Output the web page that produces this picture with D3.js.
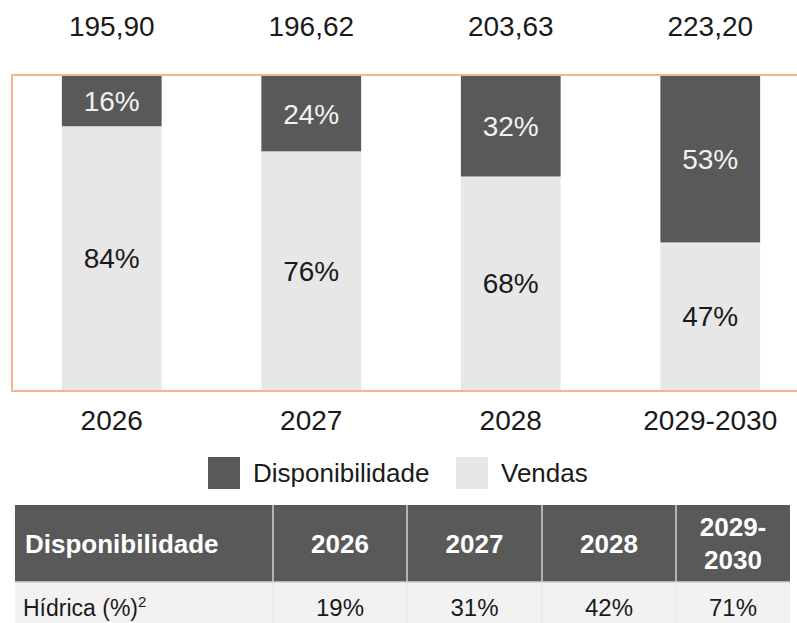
<!DOCTYPE html>
<html>
<head>
<meta charset="utf-8">
<script src="https://cdn.jsdelivr.net/npm/d3@7"></script>
<style>
  html, body { margin: 0; padding: 0; background: #ffffff; }
  svg { display: block; }
  text { font-family: "Liberation Sans", Arial, sans-serif; }
</style>
</head>
<body>
<svg id="chart" width="797" height="623"></svg>
<script>
// ---- data ----
const categories = ["2026", "2027", "2028", "2029-2030"];
const disponibilidade = [16, 24, 32, 53];
const vendas = [84, 76, 68, 47];
const totals = ["195,90", "196,62", "203,63", "223,20"];
const seriesNames = ["Disponibilidade", "Vendas"];
const tableHeader = ["Disponibilidade", "2026", "2027", "2028", "2029-2030"];
const tableRowLabel = "Hídrica (%)";
const tableRowValues = ["19%", "31%", "42%", "71%"];

// ---- layout ----
const W = 797, H = 623;
const colors = { Disponibilidade: "#595959", Vendas: "#e7e7e7" };
const svg = d3.select("#chart");

const x = d3.scaleBand().domain(categories).range([12, 810]).paddingInner(0.5).paddingOuter(0.25);
const y = d3.scaleLinear().domain([0, 100]).range([390, 76]);

const rows = categories.map((c, i) => ({ cat: c, Vendas: vendas[i], Disponibilidade: disponibilidade[i] }));
const stack = d3.stack().keys(["Vendas", "Disponibilidade"]);
const stacked = stack(rows);

// bars
const g = svg.append("g");
stacked.forEach(layer => {
  g.selectAll(null).data(layer).enter().append("rect")
    .attr("x", d => x(d.data.cat))
    .attr("width", x.bandwidth())
    .attr("y", d => y(d[1]))
    .attr("height", d => y(d[0]) - y(d[1]))
    .attr("fill", colors[layer.key]);
  g.selectAll(null).data(layer).enter().append("text")
    .attr("x", d => x(d.data.cat) + x.bandwidth() / 2)
    .attr("y", d => (y(d[0]) + y(d[1])) / 2 + 10)
    .attr("text-anchor", "middle")
    .attr("font-size", 28)
    .attr("fill", layer.key === "Disponibilidade" ? "#f2f2f2" : "#1a1a1a")
    .text(d => (d[1] - d[0]) + "%");
});

// orange frame
svg.append("rect")
  .attr("x", 12).attr("y", y(100) - 1)
  .attr("width", 800).attr("height", y(0) - y(100) + 2)
  .attr("fill", "none").attr("stroke", "#f8b48c").attr("stroke-width", 2);

// totals on top
svg.selectAll(".tot").data(categories).enter().append("text")
  .attr("x", d => x(d) + x.bandwidth() / 2)
  .attr("y", 36)
  .attr("text-anchor", "middle")
  .attr("font-size", 28)
  .attr("fill", "#1a1a1a")
  .text((d, i) => totals[i]);

// category axis
const xAxis = svg.append("g").attr("transform", "translate(0,400)")
  .call(d3.axisBottom(x).tickSize(0).tickPadding(0));
xAxis.select(".domain").remove();
xAxis.selectAll("text")
  .attr("y", 30).attr("dy", 0)
  .attr("font-size", 28)
  .attr("font-family", "'Liberation Sans', Arial, sans-serif")
  .attr("fill", "#1a1a1a");

// legend
const legendX = [208, 456];
seriesNames.forEach((s, i) => {
  svg.append("rect").attr("x", legendX[i]).attr("y", 457).attr("width", 32).attr("height", 32)
    .attr("fill", colors[s]);
  svg.append("text").attr("x", legendX[i] + 45).attr("y", 482)
    .attr("font-size", 26).attr("fill", "#1a1a1a").text(s);
});

// table
const colEdges = [15, 273, 407, 542, 676, 790];
const headTop = 505, headBot = 582, rowBot = 640;
svg.append("rect").attr("x", colEdges[0]).attr("y", headTop)
  .attr("width", colEdges[5] - colEdges[0]).attr("height", headBot - headTop).attr("fill", "#595959");
svg.append("rect").attr("x", colEdges[0]).attr("y", headBot)
  .attr("width", colEdges[5] - colEdges[0]).attr("height", rowBot - headBot).attr("fill", "#f2f2f2");
for (let i = 1; i < 5; i++) {
  svg.append("line").attr("x1", colEdges[i]).attr("x2", colEdges[i])
    .attr("y1", headTop).attr("y2", headBot).attr("stroke", "#d0d0d0").attr("stroke-width", 1.5);
  svg.append("line").attr("x1", colEdges[i]).attr("x2", colEdges[i])
    .attr("y1", headBot).attr("y2", rowBot).attr("stroke", "#e6e6e6").attr("stroke-width", 1);
}
svg.append("line").attr("x1", colEdges[0]).attr("x2", colEdges[5])
  .attr("y1", headBot).attr("y2", headBot).attr("stroke", "#d0d0d0").attr("stroke-width", 1.5);

tableHeader.forEach((h, i) => {
  const t = svg.append("text").attr("font-size", 26).attr("font-weight", "bold").attr("fill", "#ffffff");
  if (i === 0) {
    t.attr("x", 25).attr("y", 553).text(h);
  } else {
    const cx = (colEdges[i] + colEdges[i + 1]) / 2;
    t.attr("text-anchor", "middle");
    if (h.indexOf("-") > 0) {
      const parts = h.split("-");
      t.append("tspan").attr("x", cx).attr("y", 536).text(parts[0] + "-");
      t.append("tspan").attr("x", cx).attr("y", 569).text(parts[1]);
    } else {
      t.attr("x", cx).attr("y", 553).text(h);
    }
  }
});

const lbl = svg.append("text").attr("x", 23).attr("y", 616).attr("font-size", 23).attr("fill", "#1a1a1a");
lbl.append("tspan").text(tableRowLabel);
lbl.append("tspan").attr("dy", -9).attr("font-size", 15).text("2");

tableRowValues.forEach((v, i) => {
  svg.append("text")
    .attr("x", (colEdges[i + 1] + colEdges[i + 2]) / 2)
    .attr("y", 616).attr("text-anchor", "middle")
    .attr("font-size", 24).attr("fill", "#1a1a1a").text(v);
});
</script>
</body>
</html>
